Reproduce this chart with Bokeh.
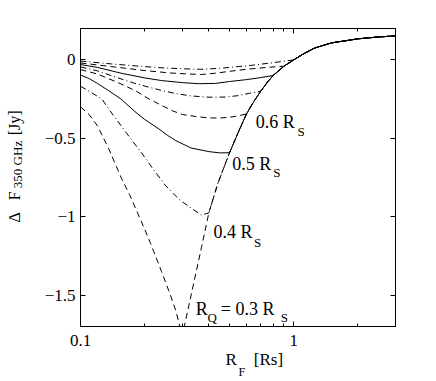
from bokeh.plotting import figure
from bokeh.models import LogAxis, LinearAxis, FixedTicker, Label, Title
from bokeh.embed import file_html
from bokeh.resources import INLINE

# ---------------- data ----------------
rq_values = [0.3, 0.4, 0.5, 0.6, 0.7, 0.8, 0.9, 1.0]
rq_dash = ["6 4", "6 3 1 3", "solid", "6 4", "6 3 1 3", "solid", "6 4", "6 3 1 3"]

# common envelope (all curves follow it for R_F > R_Q)
env_x = [0.3, 0.34, 0.37, 0.4, 0.44, 0.5, 0.55, 0.6, 0.65, 0.7, 0.75, 0.8, 0.9, 1.0,
         1.1, 1.25, 1.5, 2.0, 2.5, 3.0]
env_y = [-1.76, -1.42, -1.19, -0.975, -0.79, -0.592, -0.46, -0.345, -0.265, -0.2, -0.145,
         -0.10, -0.04, 0.0, 0.035, 0.075, 0.108, 0.134, 0.146, 0.153]

# inner branches (R_F <= R_Q)
c03_x = [0.1, 0.11, 0.12, 0.136, 0.155, 0.17, 0.2, 0.213, 0.24, 0.264, 0.28, 0.3]
c03_y = [-0.30, -0.35, -0.42, -0.57, -0.75, -0.86, -1.08, -1.17, -1.35, -1.5, -1.6, -1.76]
c04_x = [0.1, 0.113, 0.126, 0.141, 0.165, 0.195, 0.22, 0.25, 0.29, 0.334, 0.37, 0.4]
c04_y = [-0.168, -0.21, -0.25, -0.345, -0.47, -0.6, -0.7, -0.8, -0.89, -0.95, -0.99, -0.975]
c05_x = [0.1, 0.11, 0.12, 0.135, 0.155, 0.18, 0.2, 0.233, 0.255, 0.28, 0.33, 0.4, 0.45, 0.5]
c05_y = [-0.096, -0.12, -0.15, -0.195, -0.25, -0.33, -0.38, -0.44, -0.48, -0.515, -0.562,
         -0.585, -0.593, -0.592]
c06_x = [0.1, 0.12, 0.15, 0.18, 0.21, 0.24, 0.27, 0.3, 0.35, 0.4, 0.45, 0.5, 0.55, 0.6]
c06_y = [-0.062, -0.09, -0.145, -0.195, -0.25, -0.29, -0.325, -0.348, -0.362, -0.37, -0.371,
         -0.366, -0.357, -0.345]
c07_x = [0.1, 0.12, 0.15, 0.18, 0.21, 0.24, 0.28, 0.33, 0.4, 0.48, 0.55, 0.62, 0.7]
c07_y = [-0.045, -0.07, -0.115, -0.15, -0.175, -0.195, -0.215, -0.23, -0.238, -0.237, -0.228,
         -0.213, -0.2]
c08_x = [0.1, 0.12, 0.155, 0.2, 0.24, 0.3, 0.36, 0.43, 0.5, 0.6, 0.7, 0.8]
c08_y = [-0.03, -0.048, -0.085, -0.115, -0.132, -0.145, -0.152, -0.15, -0.138, -0.126, -0.113,
         -0.10]
c09_x = [0.1, 0.14, 0.2, 0.26, 0.32, 0.37, 0.43, 0.5, 0.6, 0.75, 0.9]
c09_y = [-0.02, -0.043, -0.068, -0.083, -0.09, -0.093, -0.085, -0.073, -0.06, -0.048, -0.04]
c10_x = [0.1, 0.14, 0.2, 0.25, 0.32, 0.37, 0.45, 0.55, 0.65, 0.8, 1.0]
c10_y = [-0.008, -0.026, -0.043, -0.052, -0.058, -0.06, -0.054, -0.043, -0.033, -0.018, 0.0]

inner_x = [c03_x, c04_x, c05_x, c06_x, c07_x, c08_x, c09_x, c10_x]
inner_y = [c03_y, c04_y, c05_y, c06_y, c07_y, c08_y, c09_y, c10_y]

x_major = [0.1, 1.0]
x_minor = [0.2, 0.3, 0.4, 0.5, 0.6, 0.7, 0.8, 0.9, 2.0, 3.0]
x_labels = ["0.1", "1"]
y_major = [-1.5, -1.0, -0.5, 0.0]
y_labels = ["\u22121.5", "\u22121", "\u22120.5", "0"]

NB = "\u00a0"
x_title_main = "R" + NB * 4 + "[Rs]"
x_title_sub = "F"
y_title_main = "\u0394" + NB * 3 + "F" + NB * 14 + "[Jy]"
y_title_sub = "350 GHz"

FONT = "Liberation Serif"
X0, X1, Y0, Y1 = 0.1, 3.0, -1.7, 0.2

# ---------------- figure ----------------
p = figure(width=436, height=381, x_axis_type="log", x_range=(X0, X1), y_range=(Y0, Y1),
           output_backend="svg", toolbar_location=None,
           min_border_left=80, min_border_right=41, min_border_top=28, min_border_bottom=55)
p.grid.visible = False
p.outline_line_color = "black"
p.outline_line_width = 1
p.background_fill_color = "white"
p.border_fill_color = "white"


def style_axis(ax):
    ax.axis_line_color = "black"
    ax.major_tick_in = 5
    ax.major_tick_out = 0
    ax.minor_tick_in = 3
    ax.minor_tick_out = 0
    ax.major_tick_line_color = "black"
    ax.minor_tick_line_color = "black"
    ax.major_label_text_font = FONT
    ax.major_label_text_font_size = "17px"
    ax.major_label_text_color = "black"


xb = p.xaxis[0]
xb.ticker = FixedTicker(ticks=x_major, minor_ticks=x_minor)
xb.major_label_overrides = {t: s for t, s in zip(x_major, x_labels)}
style_axis(xb)
xb.major_label_standoff = 8

yl = p.yaxis[0]
yl.ticker = FixedTicker(ticks=y_major, minor_ticks=[])
yl.major_label_overrides = {t: s for t, s in zip(y_major, y_labels)}
style_axis(yl)
yl.major_label_standoff = 5
# subscript part of the y title is the axis label (shifted by leading no-break spaces)
yl.axis_label = NB * 8 + y_title_sub
yl.axis_label_text_font = FONT
yl.axis_label_text_font_size = "13px"
yl.axis_label_text_font_style = "normal"
yl.axis_label_text_color = "black"
yl.axis_label_standoff = 17

xt = LogAxis(ticker=FixedTicker(ticks=x_major, minor_ticks=x_minor))
style_axis(xt)
xt.major_label_overrides = {t: "" for t in x_major}
p.add_layout(xt, "above")

yr = LinearAxis(ticker=FixedTicker(ticks=y_major, minor_ticks=[]))
style_axis(yr)
yr.major_label_overrides = {t: "" for t in y_major}
p.add_layout(yr, "right")

# ---------------- curves ----------------
for xs, ys, dash in zip(inner_x, inner_y, rq_dash):
    last = xs[-1]
    fx = list(xs) + [ex for ex in env_x if ex > last + 1e-9]
    fy = list(ys) + [ey for ex, ey in zip(env_x, env_y) if ex > last + 1e-9]
    p.line(fx, fy, line_color="black", line_width=1, line_dash=dash)


# ---------------- curve labels ----------------
def lab(x, y, text, size, xo=0, yo=0):
    p.add_layout(Label(x=x, y=y, text=text, x_offset=xo, y_offset=yo,
                       text_font=FONT, text_font_size=size, text_color="black",
                       text_align="left", text_baseline="alphabetic"))

lab(0.663, -0.399, "0.6 R", "18px")
lab(0.663, -0.399, "S", "13px", 41.7, -9)
lab(0.515, -0.664, "0.5 R", "18px")
lab(0.515, -0.664, "S", "13px", 41, -8.3)
lab(0.42, -1.10, "0.4 R", "18px")
lab(0.42, -1.10, "S", "13px", 40.6, -10)
lab(0.347, -1.589, "R", "18px")
lab(0.347, -1.589, "Q", "13px", 11.7, -8)
lab(0.347, -1.589, "= 0.3 R", "18px", 25, 0)
lab(0.347, -1.589, "S", "13px", 85, -8.3)


# ---------------- axis titles as side-panel titles ----------------
def title(text, size, offset, standoff, place, valign="middle"):
    t = Title(text=text, align="left", offset=offset, standoff=standoff,
              vertical_align=valign, text_font=FONT, text_font_size=size,
              text_font_style="normal", text_color="black")
    p.add_layout(t, place)

title(x_title_main, "17px", 145, 1, "below")
title(x_title_sub, "12px", 158, -14, "below")
title(y_title_main, "16px", 104, -33, "left", "bottom")

open("out.html", "w").write(file_html(p, INLINE))
